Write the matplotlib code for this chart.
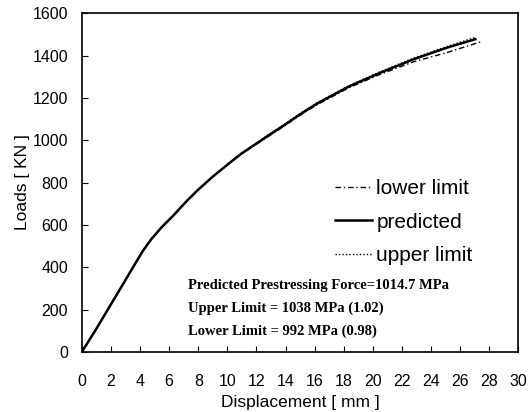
import matplotlib
matplotlib.use("Agg")
import matplotlib.pyplot as plt

disp_pred = [0, 0.5, 1, 2, 3, 3.5, 4.2, 4.8, 5.5, 6.3, 7.2, 7.9, 9, 10.2, 11, 12, 13, 13.85, 15, 16.15, 18.4, 20.5, 22.8, 25.1, 27.05]
load_pred = [0, 55, 110, 225, 340, 398, 478, 535, 590, 645, 712, 760, 828, 895, 938, 984, 1030, 1068, 1122, 1172, 1255, 1318, 1382, 1437, 1477]

disp_lower = [0, 0.5, 1, 2, 3, 3.5, 4.2, 4.8, 5.5, 6.3, 7.2, 7.9, 9, 10.2, 11, 12, 13, 13.85, 15, 16.15, 18.4, 20.5, 22.8, 25.1, 27.4]
load_lower = [0, 55, 110, 225, 340, 398, 478, 535, 590, 645, 712, 760, 828, 895, 936, 981, 1026, 1064, 1117, 1167, 1249, 1311, 1370, 1414, 1464]

disp_upper = [0, 0.5, 1, 2, 3, 3.5, 4.2, 4.8, 5.5, 6.3, 7.2, 7.9, 9, 10.2, 11, 12, 13, 13.85, 15, 16.15, 18.4, 20.5, 22.8, 25.1, 27.0]
load_upper = [0, 55, 110, 225, 340, 398, 478, 535, 590, 645, 712, 760, 828, 897, 941, 987, 1034, 1072, 1126, 1176, 1259, 1323, 1388, 1442, 1485]

xticks = list(range(0, 31, 2))
yticks = list(range(0, 1601, 200))

fig = plt.figure(figsize=(5.32, 4.12), dpi=100)
ax = fig.add_axes([0.154, 0.146, 0.82, 0.822])

ax.plot(disp_lower, load_lower, color="black", lw=1.0, ls=(0, (4, 2, 1, 2)), label="lower limit")
ax.plot(disp_pred, load_pred, color="black", lw=1.8, ls="-", label="predicted")
ax.plot(disp_upper, load_upper, color="black", lw=1.0, ls=(0, (1, 1.5)), label="upper limit")

ax.set_xlim(0, 30)
ax.set_ylim(0, 1600)
ax.set_xticks(xticks)
ax.set_yticks(yticks)
ax.tick_params(axis="x", direction="in", length=4, pad=16, labelsize=11.5)
ax.tick_params(axis="y", direction="in", length=4, pad=10, labelsize=11.5)
for lab in ax.get_xticklabels() + ax.get_yticklabels():
    lab.set_fontfamily("Liberation Sans")
for sp in ax.spines.values():
    sp.set_linewidth(1.2)

ax.set_xlabel("Displacement [ mm ]", fontfamily="Liberation Sans", fontsize=12.5, labelpad=4)
ax.set_ylabel("Loads [ KN ]", fontfamily="Liberation Sans", fontsize=12.5, labelpad=2)

leg = ax.legend(loc="upper left", bbox_to_anchor=(0.56, 0.535), frameon=False,
                prop={"family": "Liberation Sans", "size": 15}, handlelength=1.8,
                handletextpad=0.2, labelspacing=0.7, borderaxespad=0)

txt = ("Predicted Prestressing Force=1014.7 MPa\n"
       "Upper Limit = 1038 MPa (1.02)\n"
       "Lower Limit = 992 MPa (0.98)")
ax.text(0.243, 0.215, txt, transform=ax.transAxes, fontfamily="Liberation Serif",
        fontweight="bold", fontsize=10.5, va="top", ha="left", linespacing=1.9)

fig.savefig("out.png", dpi=100)
